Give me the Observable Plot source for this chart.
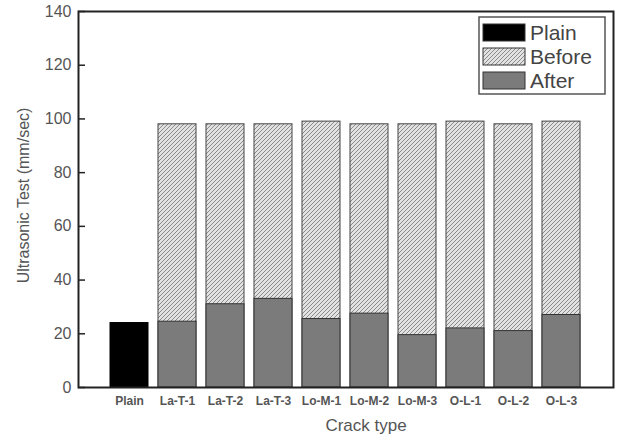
<!DOCTYPE html>
<html><head><meta charset="utf-8">
<script src="https://cdn.jsdelivr.net/npm/d3@7"></script>
<script src="https://cdn.jsdelivr.net/npm/@observablehq/plot@0.6"></script>
<style>body{margin:0;background:#fff} #chart{width:620px;height:441px}</style>
</head><body><div id="chart"></div>
<script>
const categories = ["Plain","La-T-1","La-T-2","La-T-3","Lo-M-1","Lo-M-2","Lo-M-3","O-L-1","O-L-2","O-L-3"];
const plainValue = 24;
const beforeValues = [null, 98, 98, 98, 99, 98, 98, 99, 98, 99];
const afterValues = [null, 24.5, 31, 33, 25.5, 27.5, 19.5, 22, 21, 27];
const seriesNames = ["Plain","Before","After"];
const seriesColors = ["#000000","url(#hatch)","#7b7b7b"];
const yTicks = [0,20,40,60,80,100,120,140];

const plainData = [{category: categories[0], value: plainValue}];
const beforeData = categories.map((c,i)=>({category:c, value: beforeValues[i]})).filter(d=>d.value!=null);
const afterData = categories.map((c,i)=>({category:c, value: afterValues[i]})).filter(d=>d.value!=null);

const plot = Plot.plot({
  width: 620, height: 441,
  marginLeft: 78, marginRight: 7, marginTop: 11, marginBottom: 54,
  style: {fontFamily: "'Liberation Sans', Arial, sans-serif", background: "#fff", color: "#555"},
  x: {domain: categories, paddingInner: 0.2, paddingOuter: 0.6, label: null},
  y: {domain: [0, 140], label: null},
  marks: [
    Plot.barY(beforeData, {x: "category", y: "value", fill: seriesColors[1], stroke: "#444", strokeWidth: 1}),
    Plot.barY(afterData, {x: "category", y: "value", fill: seriesColors[2], stroke: "#333", strokeWidth: 1}),
    Plot.barY(plainData, {x: "category", y: "value", fill: seriesColors[0], stroke: "#000", strokeWidth: 1}),
    Plot.axisY({ticks: yTicks, tickSize: 7, dx: 7, tickFormat: () => "", stroke: "#222", strokeWidth: 1.5}),
    Plot.axisY({ticks: yTicks, tickSize: 0, tickPadding: 7, fontSize: 16, fill: "#555", label: null}),
    Plot.axisX({tickSize: 0, tickPadding: 9, fontSize: 12, fontWeight: "bold", fill: "#555", label: null}),
    Plot.frame({stroke: "#222", strokeWidth: 2}),
    Plot.text(["Crack type"], {frameAnchor: "bottom", dx: 20, dy: 43, fontSize: 17, fill: "#555"}),
    Plot.text(["Ultrasonic Test (mm/sec)"], {frameAnchor: "left", textAnchor: "middle", rotate: -90, dx: -55, dy: -4, fontSize: 16, fill: "#555"})
  ]
});

const svg = d3.select(plot);
const defs = svg.insert("defs", ":first-child");
const pat = defs.append("pattern").attr("id", "hatch").attr("patternUnits", "userSpaceOnUse")
  .attr("width", 4).attr("height", 4);
pat.append("rect").attr("width", 4).attr("height", 4).attr("fill", "#e2e2e2");
pat.append("path").attr("d", "M-1,1 l2,-2 M0,4 l4,-4 M3,5 l2,-2").attr("stroke", "#8a8a8a").attr("stroke-width", 1);

// legend inside the frame
const lg = svg.append("g").attr("font-family", "'Liberation Sans', Arial, sans-serif").attr("text-anchor", "start");
lg.append("rect").attr("x", 479).attr("y", 17).attr("width", 126).attr("height", 77)
  .attr("fill", "#fff").attr("stroke", "#555").attr("stroke-width", 1.5);
seriesNames.forEach((name, i) => {
  const y0 = 24 + i * 24;
  lg.append("rect").attr("x", 483).attr("y", y0).attr("width", 42).attr("height", 17)
    .attr("fill", seriesColors[i]).attr("stroke", "#333").attr("stroke-width", 1);
  lg.append("text").attr("x", 530).attr("y", y0 + 8.5).attr("dominant-baseline", "central")
    .attr("text-anchor", "start").attr("font-size", 21).attr("fill", "#444").text(name);
});

document.getElementById("chart").appendChild(plot);
</script>
</body></html>
